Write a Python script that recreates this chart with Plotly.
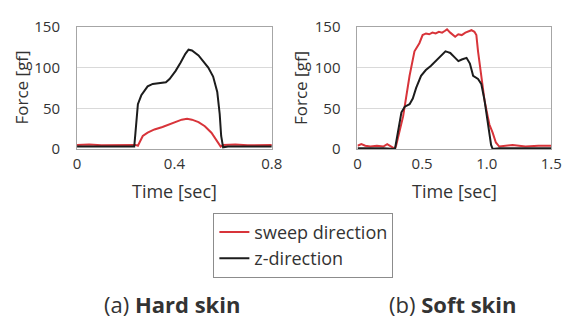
import plotly.graph_objects as go

# Hard skin (a)
hard_t_z = [0, 0.05, 0.1, 0.15, 0.2, 0.235, 0.24, 0.245, 0.25, 0.264, 0.29, 0.311, 0.338, 0.365, 0.38, 0.405, 0.425, 0.445, 0.458, 0.472, 0.499, 0.525, 0.539, 0.559, 0.576, 0.586, 0.592, 0.6, 0.62, 0.7, 0.8]
hard_f_z = [3, 3, 2.5, 3, 3, 3, 20, 43, 55, 66, 77, 80, 81, 82, 86, 96, 106, 117, 122, 121, 115, 106, 100, 89, 70, 43, 16, 2, 3, 3, 3]

hard_t_s = [0, 0.05, 0.1, 0.15, 0.2, 0.24, 0.25, 0.258, 0.27, 0.29, 0.318, 0.351, 0.378, 0.405, 0.43, 0.452, 0.472, 0.499, 0.525, 0.552, 0.572, 0.59, 0.6, 0.65, 0.7, 0.75, 0.8]
hard_f_s = [5, 5.5, 4.5, 5, 5.5, 5, 4, 9, 16, 20, 24, 27, 30, 33, 36, 37, 36, 33, 28, 20, 11, 3, 5, 5.5, 4.5, 5, 5]

# Soft skin (b)
soft_t_s = [0, 0.03, 0.06, 0.1, 0.15, 0.2, 0.23, 0.26, 0.29, 0.3, 0.353, 0.403, 0.441, 0.479, 0.504, 0.53, 0.555, 0.58, 0.605, 0.63, 0.655, 0.675, 0.693, 0.718, 0.74, 0.756, 0.78, 0.807, 0.835, 0.857, 0.882, 0.905, 0.92, 0.933, 0.958, 0.983, 1.008, 1.021, 1.046, 1.071, 1.097, 1.15, 1.2, 1.3, 1.4, 1.5]
soft_f_s = [4, 6, 4, 3, 4, 3, 6, 3, 0, 5, 40, 90, 120, 130, 140, 142, 141, 143, 142, 144, 143, 145, 147, 143, 140, 138, 141, 140, 143, 144, 146, 144, 140, 120, 90, 60, 40, 30, 20, 8, 3, 4, 5, 3, 4, 4]

soft_t_z = [0, 0.1, 0.2, 0.29, 0.315, 0.34, 0.366, 0.403, 0.428, 0.454, 0.492, 0.529, 0.567, 0.605, 0.643, 0.681, 0.7, 0.718, 0.756, 0.781, 0.807, 0.844, 0.87, 0.895, 0.933, 0.958, 0.983, 1.008, 1.034, 1.046, 1.1, 1.2, 1.3, 1.4, 1.5]
soft_f_z = [1, 1, 1, 0, 25, 45, 52, 55, 62, 75, 90, 97, 102, 108, 114, 120, 119, 118, 112, 108, 110, 112, 105, 90, 86, 80, 60, 35, 5, 0, 1, 1, 1, 1, 1]

y_ticks = [0, 50, 100, 150]
hard_x_ticks = [0, 0.4, 0.8]
hard_x_labels = ["0", "0.4", "0.8"]
soft_x_ticks = [0, 0.5, 1.0, 1.5]
soft_x_labels = ["0", "0.5", "1.0", "1.5"]

RED = "#d8343a"
BLACK = "#1c1c1c"
FONT = "Open Sans"
TXT = "#333333"

fig = go.Figure()
fig.add_trace(go.Scatter(x=hard_t_s, y=hard_f_s, mode="lines", line=dict(color=RED, width=2),
                         name="sweep direction", xaxis="x", yaxis="y"))
fig.add_trace(go.Scatter(x=hard_t_z, y=hard_f_z, mode="lines", line=dict(color=BLACK, width=2),
                         name="z-direction", xaxis="x", yaxis="y"))
fig.add_trace(go.Scatter(x=soft_t_s, y=soft_f_s, mode="lines", line=dict(color=RED, width=2),
                         name="sweep direction", showlegend=False, xaxis="x2", yaxis="y2"))
fig.add_trace(go.Scatter(x=soft_t_z, y=soft_f_z, mode="lines", line=dict(color=BLACK, width=2),
                         name="z-direction", showlegend=False, xaxis="x2", yaxis="y2"))

axis_common = dict(showline=True, linecolor="#a6a6a6", linewidth=1, mirror=True,
                   ticks="", tickfont=dict(family=FONT, size=15, color=TXT), zeroline=False)
ydom = [1 - 147 / 325, 1 - 17 / 325]

fig.update_layout(
    width=573, height=325, margin=dict(l=0, r=0, t=0, b=0),
    paper_bgcolor="white", plot_bgcolor="white",
    font=dict(family=FONT, color=TXT),
    xaxis=dict(domain=[75 / 573, 275 / 573], range=[0, 0.8], tickvals=hard_x_ticks,
               ticktext=hard_x_labels, showgrid=False, anchor="y", ticklabelstandoff=1, **axis_common),
    yaxis=dict(domain=ydom, range=[0, 150], tickvals=y_ticks, showgrid=True,
               gridcolor="#d9d9d9", anchor="x", ticklabelstandoff=13, **axis_common),
    xaxis2=dict(domain=[363 / 573, 562 / 573], range=[0, 1.5], tickvals=soft_x_ticks,
                ticktext=soft_x_labels, showgrid=False, anchor="y2", ticklabelstandoff=1, **axis_common),
    yaxis2=dict(domain=ydom, range=[0, 150], tickvals=y_ticks, showgrid=True,
                gridcolor="#d9d9d9", anchor="x2", ticklabelstandoff=13, **axis_common),
    legend=dict(x=215 / 573, y=1 - 215 / 325, xanchor="left", yanchor="top",
                bordercolor="#8c8c8c", borderwidth=1, bgcolor="white",
                font=dict(family=FONT, size=18, color=TXT),
                itemwidth=30, tracegroupgap=0),
    showlegend=True,
)

ann = [
    dict(text="Force [gf]", x=18 / 573, y=1 - 82 / 325, textangle=-90, size=17),
    dict(text="Force [gf]", x=305 / 573, y=1 - 82 / 325, textangle=-90, size=17),
    dict(text="Time [sec]", x=(75 + 275) / 2 / 573, y=1 - 192 / 325, textangle=0, size=18),
    dict(text="Time [sec]", x=(363 + 562) / 2 / 573, y=1 - 192 / 325, textangle=0, size=18),
]
for a in ann:
    fig.add_annotation(xref="paper", yref="paper", showarrow=False, xanchor="center",
                       yanchor="middle", text=a["text"], x=a["x"], y=a["y"],
                       textangle=a["textangle"],
                       font=dict(family=FONT, size=a["size"], color=TXT))

fig.add_annotation(xref="paper", yref="paper", showarrow=False, x=173 / 573, y=1 - 312 / 325,
                   xanchor="center", yanchor="middle",
                   text="(a) <b>Hard skin</b>", font=dict(family=FONT, size=22, color=TXT))
fig.add_annotation(xref="paper", yref="paper", showarrow=False, x=461 / 573, y=1 - 312 / 325,
                   xanchor="center", yanchor="middle",
                   text="(b) <b>Soft skin</b>", font=dict(family=FONT, size=22, color=TXT))

fig.write_html("out.html")
